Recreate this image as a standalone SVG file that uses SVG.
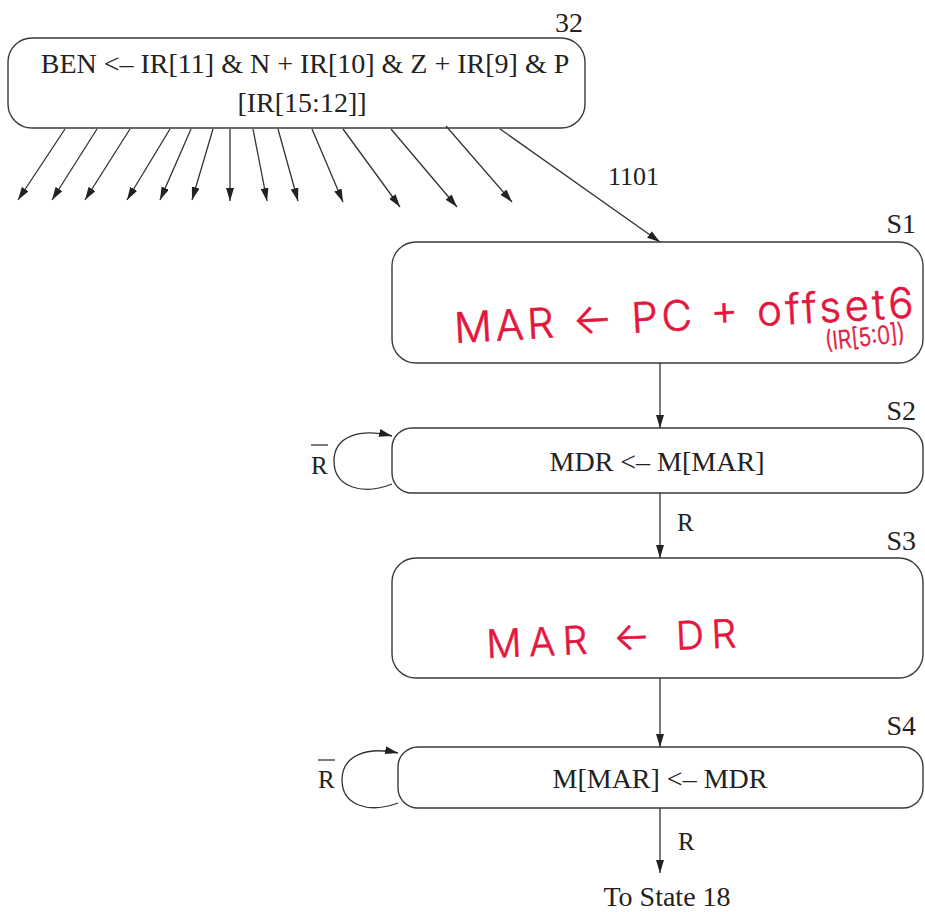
<svg xmlns="http://www.w3.org/2000/svg" width="925" height="912" viewBox="0 0 925 912">
<style>
.box{fill:#fff;stroke:#3a3a3a;stroke-width:1.4}
.t{font-family:"Liberation Serif","Times New Roman",serif;font-size:28px;fill:#222}
.lbl{font-family:"Liberation Serif","Times New Roman",serif;font-size:25px;fill:#222}
.hw{font-family:"Inter","DejaVu Sans",sans-serif;font-weight:300;fill:#e3173e;stroke:#e3173e;stroke-width:0.6}
.c{fill:none;stroke:#333;stroke-width:1.3;marker-end:url(#ah)}
.bar{stroke:#333;stroke-width:1.3}
</style>
<defs>
<marker id="ah" markerUnits="userSpaceOnUse" markerWidth="13" markerHeight="8" refX="13" refY="4" orient="auto">
<path d="M0,0 L13,4 L0,8 Z" fill="#222"/>
</marker>
</defs>
<rect width="925" height="912" fill="#fff"/>

<g id="state-32">
<rect class="box" x="8" y="38" width="577" height="90" rx="24"/>
<text class="t" x="305" y="73" text-anchor="middle">BEN &lt;– IR[11] &amp; N + IR[10] &amp; Z + IR[9] &amp; P</text>
<text class="t" x="302" y="112" text-anchor="middle">[IR[15:12]]</text>
<text class="t" x="583" y="32" text-anchor="end">32</text>
</g>

<g id="state-s1">
<rect class="box" x="392" y="242" width="531" height="121" rx="24"/>
<text class="t" x="916" y="233" text-anchor="end">S1</text>
<text class="hw" x="455" y="343" font-size="42" textLength="460" lengthAdjust="spacing" transform="rotate(-3.2 455 343)">MAR ← PC + offset6</text>
<text class="hw" x="826" y="350" font-size="25" textLength="80" lengthAdjust="spacingAndGlyphs" transform="rotate(-6 826 350)">(IR[5:0])</text>
</g>

<g id="state-s2">
<rect class="box" x="392" y="428" width="531" height="65" rx="20"/>
<text class="t" x="916" y="420" text-anchor="end">S2</text>
<text class="t" x="657" y="471" text-anchor="middle">MDR &lt;– M[MAR]</text>
</g>

<g id="state-s3">
<rect class="box" x="392" y="558" width="531" height="120" rx="24"/>
<text class="t" x="916" y="550" text-anchor="end">S3</text>
<text class="hw" x="487" y="658" font-size="39" textLength="250" lengthAdjust="spacing" transform="rotate(-2.5 487 658)">MAR ← DR</text>
</g>

<g id="state-s4">
<rect class="box" x="398" y="747" width="525" height="61" rx="20"/>
<text class="t" x="916" y="735" text-anchor="end">S4</text>
<text class="t" x="660" y="788" text-anchor="middle">M[MAR] &lt;– MDR</text>
</g>

<g id="to-state-18">
<text class="t" x="667" y="906" text-anchor="middle">To State 18</text>
</g>

<g id="connectors">
<line class="c" x1="65" y1="129" x2="18" y2="200"/>
<line class="c" x1="97" y1="129" x2="52" y2="200"/>
<line class="c" x1="130" y1="129" x2="85" y2="200"/>
<line class="c" x1="170" y1="129" x2="127" y2="200"/>
<line class="c" x1="191" y1="129" x2="160" y2="200"/>
<line class="c" x1="213" y1="129" x2="192" y2="200"/>
<line class="c" x1="230" y1="129" x2="230" y2="201"/>
<line class="c" x1="253" y1="129" x2="267" y2="201"/>
<line class="c" x1="278" y1="129" x2="298" y2="201"/>
<line class="c" x1="312" y1="129" x2="343" y2="202"/>
<line class="c" x1="343" y1="129" x2="400" y2="207"/>
<line class="c" x1="391" y1="129" x2="457" y2="207"/>
<line class="c" x1="446" y1="126" x2="512" y2="202"/>
<line class="c" x1="500" y1="129" x2="660" y2="242"/>
<text class="lbl" x="608" y="185" style="font-size:26px">1101</text>

<line class="c" x1="660" y1="363" x2="660" y2="428"/>
<path class="c" d="M392,484 C362,496 334,487 334,461 C334,436 360,428 392,436"/>
<line class="bar" x1="311" y1="445" x2="328" y2="445"/>
<text class="lbl" x="311" y="474">R</text>

<line class="c" x1="660" y1="493" x2="660" y2="558"/>
<text class="lbl" x="677" y="531">R</text>

<line class="c" x1="660" y1="678" x2="660" y2="747"/>
<path class="c" d="M398,803 C368,814 342,805 342,780 C342,756 366,746 398,753"/>
<line class="bar" x1="318" y1="760" x2="335" y2="760"/>
<text class="lbl" x="318" y="788">R</text>

<line class="c" x1="660" y1="808" x2="660" y2="873"/>
<text class="lbl" x="678" y="850">R</text>
</g>
</svg>
